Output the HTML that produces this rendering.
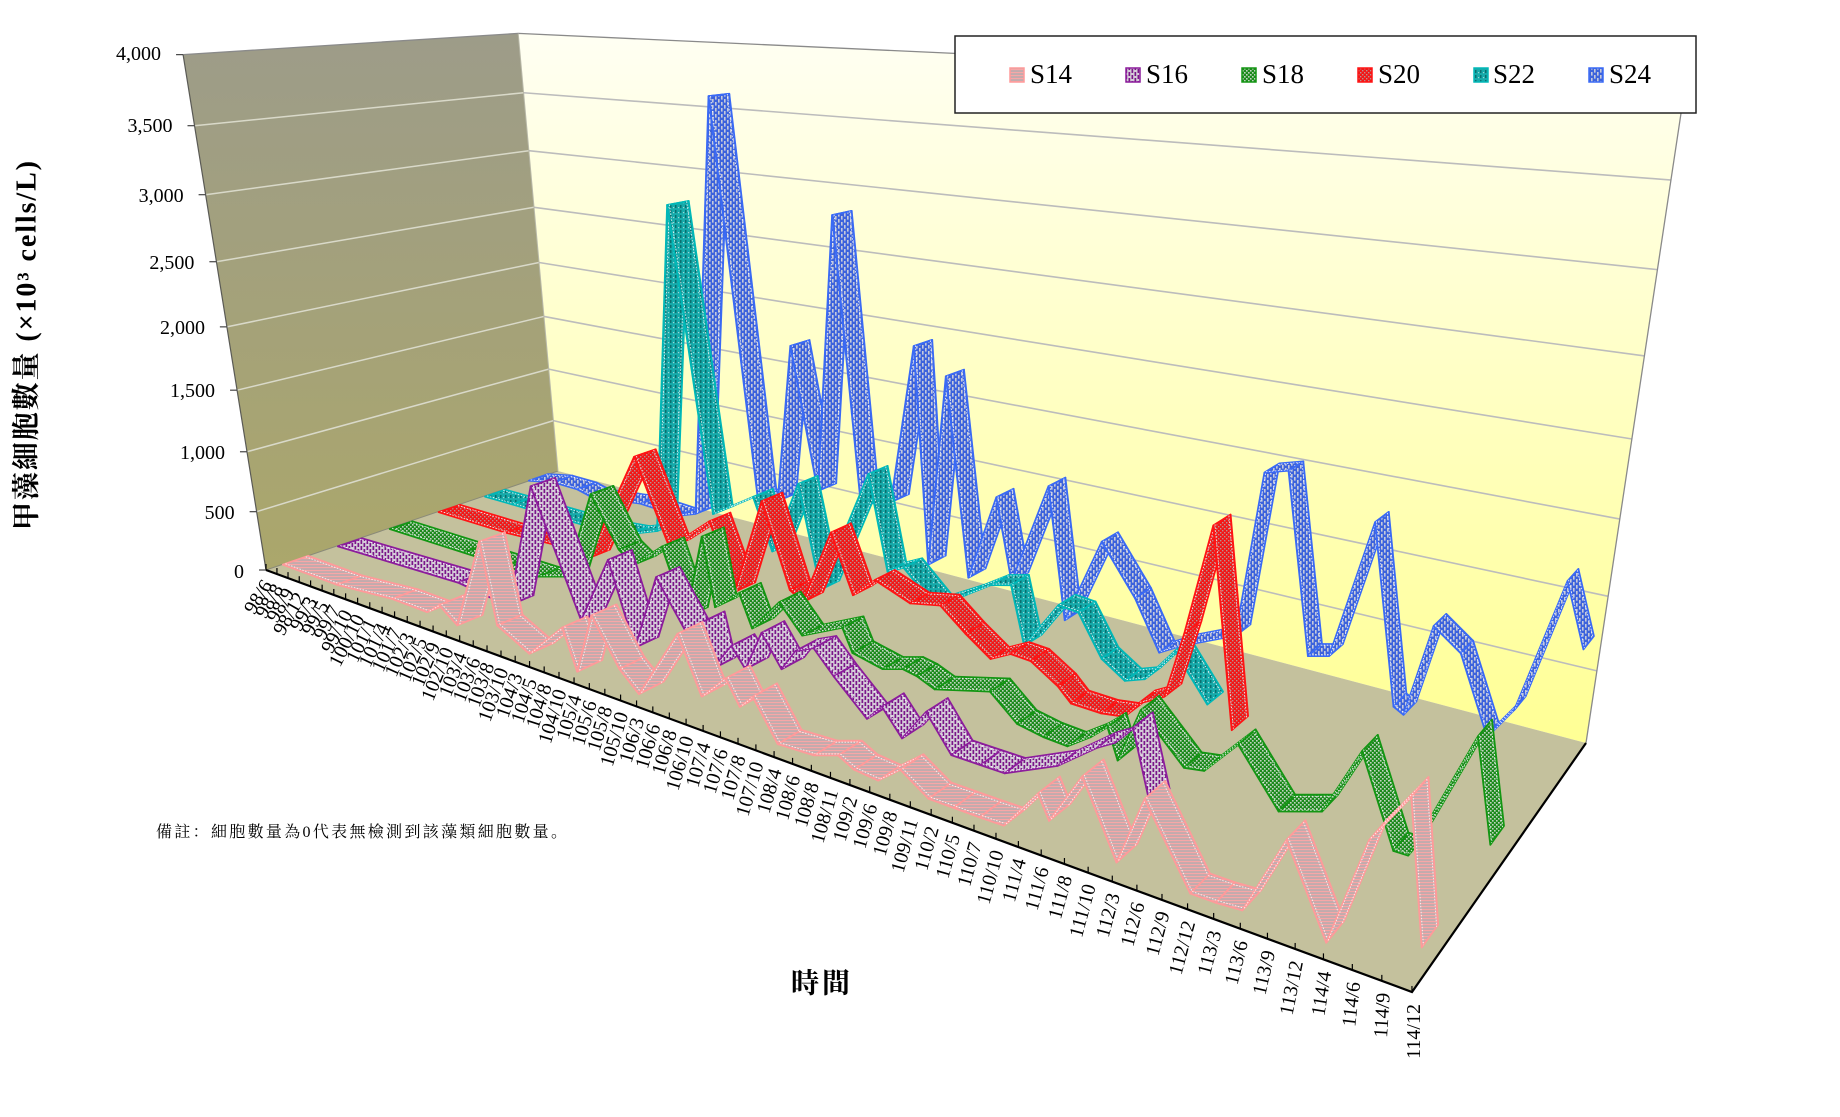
<!DOCTYPE html>
<html><head><meta charset="utf-8"><title>chart</title>
<style>
html,body{margin:0;padding:0;background:#fff;width:1840px;height:1117px;overflow:hidden}
svg{display:block}
.t{font-family:"Liberation Serif","Noto Serif CJK SC",serif;fill:#000}
</style></head><body>
<svg id="svg" xmlns="http://www.w3.org/2000/svg" width="1840" height="1117" viewBox="0 0 1840 1117">
<defs>
<linearGradient id="gLeft" x1="0" y1="0" x2="0" y2="1"><stop offset="0" stop-color="#9d9c89"/><stop offset="1" stop-color="#aba76b"/></linearGradient>
<linearGradient id="gBack" gradientUnits="userSpaceOnUse" x1="0" y1="40" x2="0" y2="745"><stop offset="0" stop-color="#fffff2"/><stop offset="1" stop-color="#ffff94"/></linearGradient>
<pattern id="p0" width="4" height="3" patternUnits="userSpaceOnUse"><rect width="4" height="3" fill="#c2abad"/><rect width="4" height="1.1" fill="#f7a7a7"/></pattern>
<pattern id="p1" width="6" height="6" patternUnits="userSpaceOnUse"><rect width="6" height="6" fill="#d4cbd8"/><rect x="0.5" y="0" width="1.7" height="4" fill="#7a1689"/><rect x="3.5" y="3" width="1.7" height="4" fill="#7a1689"/><rect x="3.5" y="-3" width="1.7" height="4" fill="#7a1689"/></pattern>
<pattern id="p2" width="4" height="4" patternUnits="userSpaceOnUse"><rect width="4" height="4" fill="#1c8a1c"/><rect width="1.6" height="1.6" fill="#c0d4c0"/><rect x="2" y="2" width="1.6" height="1.6" fill="#c0d4c0"/></pattern>
<pattern id="p3" width="4" height="4" patternUnits="userSpaceOnUse"><rect width="4" height="4" fill="#f21616"/><rect width="1.4" height="1.4" fill="#b98f8f"/><rect x="2" y="2" width="1.4" height="1.4" fill="#b98f8f"/></pattern>
<pattern id="p4" width="5" height="5" patternUnits="userSpaceOnUse"><rect width="5" height="5" fill="#16aaaa"/><rect width="1.5" height="3" fill="#0a7070"/><rect x="3" y="2" width="1.2" height="1.2" fill="#9ad6d6"/></pattern>
<pattern id="p5" width="6" height="6" patternUnits="userSpaceOnUse"><rect width="6" height="6" fill="#3d63dc"/><rect x="1" y="0" width="1.6" height="3.6" fill="#c6cadb"/><rect x="4" y="3" width="1.6" height="3.6" fill="#c6cadb"/><rect x="4" y="-3" width="1.6" height="3.6" fill="#c6cadb"/></pattern>
</defs>
<rect width="1840" height="1117" fill="#fff"/>
<polygon points="558,471 518.2,33.4 1685,86.9 1586,743" fill="url(#gBack)"/>
<polygon points="266,570 183.1,54.6 518.2,33.4 558,471" fill="url(#gLeft)"/>
<polygon points="266,570 558,471 1586,743 1412,992" fill="#c4c19d"/>
<g id="grid"></g>
<polyline points="183.1,54.6 518.2,33.4 1685,86.9 1586,743" fill="none" stroke="#8a8a8a" stroke-width="1.3"/>
<line x1="266" y1="570" x2="183.1" y2="54.6" stroke="#5a5a55" stroke-width="1.2"/>
<line x1="266" y1="570" x2="558" y2="471" stroke="#8a8a78" stroke-width="1"/>
<line x1="518.2" y1="33.4" x2="558" y2="471" stroke="#b8b8a8" stroke-width="1"/>
<polyline points="266,570 1412,992 1586,743" fill="none" stroke="#000" stroke-width="2.2"/>
<g id="ticks"></g>
<g id="rib"></g>

<g class="t" font-size="20" text-anchor="end" dominant-baseline="central">
<text x="244" y="572">0</text>
<text x="234.6" y="513">500</text>
<text x="225" y="453">1,000</text>
<text x="215" y="391">1,500</text>
<text x="205" y="328">2,000</text>
<text x="194.4" y="263">2,500</text>
<text x="183.6" y="196">3,000</text>
<text x="172.5" y="126">3,500</text>
<text x="161" y="54">4,000</text>
</g>

<g id="cats" class="t" font-size="20" text-anchor="end" dominant-baseline="central">
<text>98/6</text><text>98/8</text><text>98/9</text><text>98/12</text><text>99/3</text><text>99/5</text><text>99/7</text><text>99/10</text>
<text>100/10</text><text>101/1</text><text>101/4</text><text>101/7</text><text>102/3</text><text>102/5</text><text>102/9</text><text>102/10</text>
<text>103/4</text><text>103/6</text><text>103/8</text><text>103/10</text><text>104/3</text><text>104/5</text><text>104/8</text><text>104/10</text>
<text>105/4</text><text>105/6</text><text>105/8</text><text>105/10</text><text>106/3</text><text>106/6</text><text>106/8</text><text>106/10</text>
<text>107/4</text><text>107/6</text><text>107/8</text><text>107/10</text><text>108/4</text><text>108/6</text><text>108/8</text><text>108/11</text>
<text>109/2</text><text>109/6</text><text>109/8</text><text>109/11</text><text>110/2</text><text>110/5</text><text>110/7</text><text>110/10</text>
<text>111/4</text><text>111/6</text><text>111/8</text><text>111/10</text><text>112/3</text><text>112/6</text><text>112/9</text><text>112/12</text>
<text>113/3</text><text>113/6</text><text>113/9</text><text>113/12</text><text>114/4</text><text>114/6</text><text>114/9</text><text>114/12</text>
</g>

<text class="t" transform="translate(27,530) rotate(-90)" font-size="28" font-weight="bold" dominant-baseline="central" textLength="369" lengthAdjust="spacing">甲藻細胞數量 (×10³ cells/L)</text>
<text class="t" x="822" y="984" font-size="28" font-weight="bold" text-anchor="middle" dominant-baseline="central" letter-spacing="3">時間</text>
<text class="t" x="156" y="837" font-size="16" textLength="411" lengthAdjust="spacing">備註：細胞數量為0代表無檢測到該藻類細胞數量。</text>

<rect x="955" y="36" width="741" height="77" fill="#fff" stroke="#222" stroke-width="1.5"/>
<rect x="1010" y="68" width="14" height="14" fill="url(#p0)" stroke="#ff9a9a" stroke-width="1.5"/>
<rect x="1126" y="68" width="14" height="14" fill="url(#p1)" stroke="#8c1c9c" stroke-width="1.5"/>
<rect x="1242" y="68" width="14" height="14" fill="url(#p2)" stroke="#139613" stroke-width="1.5"/>
<rect x="1358" y="68" width="14" height="14" fill="url(#p3)" stroke="#ff1414" stroke-width="1.5"/>
<rect x="1474" y="68" width="14" height="14" fill="url(#p4)" stroke="#00b8b8" stroke-width="1.5"/>
<rect x="1589" y="68" width="14" height="14" fill="url(#p5)" stroke="#3a6af5" stroke-width="1.5"/>
<g class="t" font-size="27" dominant-baseline="central">
<text x="1030" y="74">S14</text>
<text x="1146" y="74">S16</text>
<text x="1262" y="74">S18</text>
<text x="1378" y="74">S20</text>
<text x="1493" y="74">S22</text>
<text x="1609" y="74">S24</text>
</g>
</svg>
<script>
(function(){
var NS="http://www.w3.org/2000/svg";
function P(X,Y,Z){var w=1-0.4026*X+0.1829*Z-0.1068*Y;return[(577.5*X+394.1*Z+266-102.5*Y)/w,(22.6*X-12.9*Z+570-521.2*Y)/w];}
function inv(x,y,Z){var cD=1+0.1829*Z,cx=266+394.1*Z,cy=570-12.9*Z;
var A1=577.5+0.4026*x,B1=0.1068*x-102.5,C1=x*cD-cx;
var A2=22.6+0.4026*y,B2=0.1068*y-521.2,C2=y*cD-cy;
var det=A1*B2-A2*B1;var X=(C1*B2-C2*B1)/det,Y=(A1*C2-A2*C1)/det;
X=Math.min(0.998,Math.max(0.002,X));Y=Math.max(0,Y);return[X,Y];}
function add(par,tag,at){var e=document.createElementNS(NS,tag);for(var k in at)e.setAttribute(k,at[k]);par.appendChild(e);return e;}
function f(p){return p[0].toFixed(1)+","+p[1].toFixed(1);}
var grid=document.getElementById("grid");
for(var k=1;k<8;k++){var Y=k/8;var a=P(0,Y,0),b=P(0,Y,1),c=P(1,Y,1);
add(grid,"line",{x1:a[0],y1:a[1],x2:b[0],y2:b[1],stroke:"#d9d9c9","stroke-width":1.5});
add(grid,"line",{x1:b[0],y1:b[1],x2:c[0],y2:c[1],stroke:"#bcbcbc","stroke-width":1.6});}
var ticks=document.getElementById("ticks");
for(var i=0;i<=63;i++){var p=P(i/63,0,0);add(ticks,"line",{x1:p[0],y1:p[1],x2:p[0],y2:p[1]-6,stroke:"#000","stroke-width":1.2});}
for(var k2=0;k2<=8;k2++){var q=P(0,k2/8,0);add(ticks,"line",{x1:q[0]-7,y1:q[1],x2:q[0],y2:q[1],stroke:"#444","stroke-width":1.2});}
var cats=document.querySelectorAll("#cats text");
for(var j=0;j<cats.length;j++){var pp=P(j/63,0,0);var an;
if(j<23)an=58+15*j/23;else if(j<55)an=73+2*(j-23)/32;else an=75+(j-55)*(j-55)*15/64;
cats[j].setAttribute("transform","translate("+(pp[0]+2).toFixed(1)+","+(pp[1]+12).toFixed(1)+") rotate("+(-an).toFixed(1)+")");}
var D=[
[[295,560],[350,583],[405,594],[440,607],[452,600],[470,620],[492,537],[510,620],[542,648],[575,622],[590,668],[604,610],[632,663],[652,695],[690,628],[714,690],[738,672],[752,700],[765,690],[790,742],[826,748],[850,748],[866,762],[890,778],[912,762],[940,792],[965,800],[991,813],[1015,817],[1049,785],[1060,812],[1093,768],[1127,853],[1155,790],[1200,887],[1225,900],[1252,900],[1296,830],[1335,935],[1378,830],[1420,787],[1442,940]],
[[349,542],[470,578],[505,594],[522,603],[543,482],[593,615],[620,555],[647,643],[668,572],[697,625],[713,617],[724,663],[743,640],[757,663],[773,627],[793,663],[807,645],[825,642],[845,670],[878,712],[893,700],[913,738],[937,705],[962,750],[991,767],[1015,773],[1068,758],[1107,740],[1125,735],[1143,720],[1160,797]],
[[400,525],[475,552],[517,563],[550,577],[578,572],[602,490],[630,545],[645,560],[673,542],[697,612],[713,532],[726,602],[750,588],[763,623],[790,597],[813,630],[853,622],[863,647],[893,663],[913,663],[927,670],[945,683],[1000,685],[1027,717],[1053,730],[1077,740],[1100,730],[1117,720],[1127,753],[1150,703],[1193,760],[1213,763],[1247,737],[1287,803],[1330,803],[1370,743],[1400,850],[1415,852],[1485,728],[1503,837]],
[[448,508],[517,533],[563,540],[580,552],[600,560],[645,453],[680,543],[720,517],[745,587],[772,497],[800,585],[813,597],[841,528],[863,590],[885,575],[920,598],[950,600],[975,628],[1000,653],[1020,648],[1040,655],[1067,680],[1080,697],[1110,710],[1133,710],[1147,697],[1173,690],[1193,627],[1222,520],[1240,723]],
[[494,493],[523,507],[563,517],[600,527],[640,530],[667,527],[678,203],[723,510],[763,493],[782,547],[808,480],[830,585],[878,470],[897,567],[913,563],[943,600],[975,590],[1000,580],[1020,580],[1033,640],[1067,600],[1087,607],[1110,653],[1133,680],[1153,673],[1183,645],[1215,702]],
[[537,477],[563,479],[587,486],[600,493],[627,497],[650,500],[687,512],[705,510],[719,95],[767,493],[787,497],[800,343],[827,487],[842,213],[870,500],[900,498],[923,343],[937,560],[955,373],[977,573],[1005,493],[1020,577],[1057,482],[1073,615],[1110,537],[1143,593],[1167,647],[1190,640],[1243,630],[1272,468],[1296,466],[1315,650],[1336,650],[1382,517],[1400,700],[1410,708],[1440,620],[1467,647],[1493,730],[1520,703],[1573,575],[1590,643]]
];
var cols=["#ff9a9a","#8c1c9c","#139613","#ff1414","#00b8b8","#3a6af5"];
var rib=document.getElementById("rib");var d=0.038;
for(var s=5;s>=0;s--){var Z=(2*s+1)/12;var pts=D[s].map(function(q){return inv(q[0],q[1],Z);});
for(var m=0;m<pts.length-1;m++){var A=pts[m],B=pts[m+1];
var a1=P(A[0],A[1],Z-d),b1=P(B[0],B[1],Z-d),c1=P(B[0],B[1],Z+d),e1=P(A[0],A[1],Z+d);
add(rib,"polygon",{points:[a1,b1,c1,e1].map(f).join(" "),fill:"url(#p"+s+")",stroke:cols[s],"stroke-width":1.8,"stroke-linejoin":"round"});
var a2=P(A[0],A[1],Z-d*0.8),b2=P(B[0],B[1],Z-d*0.8),c2=P(B[0],B[1],Z+d*0.8),e2=P(A[0],A[1],Z+d*0.8);
add(rib,"polyline",{points:[a2,b2].map(f).join(" "),fill:"none",stroke:"#ffffff","stroke-width":0.9,"stroke-dasharray":"1.5 1.5","stroke-opacity":0.85});
add(rib,"polyline",{points:[e2,c2].map(f).join(" "),fill:"none",stroke:"#ffffff","stroke-width":0.9,"stroke-dasharray":"1.5 1.5","stroke-opacity":0.85});
}}
})();
</script>
</body></html>
